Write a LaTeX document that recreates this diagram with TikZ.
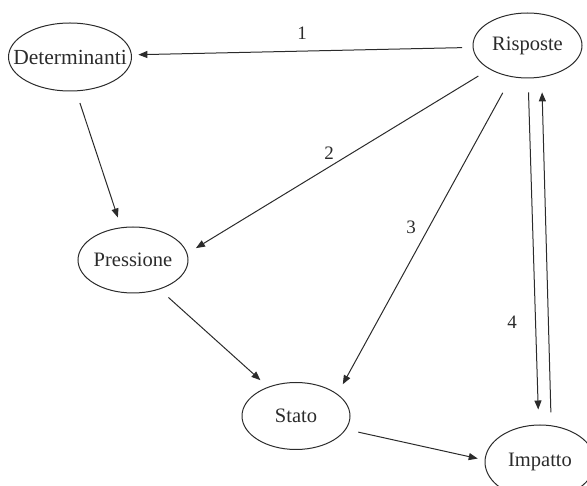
\documentclass[tikz,border=0pt]{standalone}
\usepackage{fontspec}
\setmainfont{Liberation Serif}
\usetikzlibrary{arrows.meta,shapes.geometric}
\definecolor{ink}{HTML}{2B2B2B}
% label of zero width, so that the ellipse keeps its set size
\newcommand{\statelabel}[1]{\makebox[0pt]{#1}}
\begin{document}
\begin{tikzpicture}[x=1pt,y=-1pt,
  state/.style={ellipse, draw=ink, line width=1pt, inner sep=0pt, text=ink,
    font=\fontsize{20.5}{24}\selectfont},
  link/.style={draw=ink, line width=1pt, -{Triangle[length=9pt,width=7pt]}},
  num/.style={text=ink, font=\fontsize{19}{22}\selectfont}]
  \useasboundingbox (0,0) rectangle (587,486);
  \clip (0,0) rectangle (587,486);

  % states
  \node[state, minimum width=123pt, minimum height=68pt,
        font=\fontsize{21.5}{25}\selectfont] (det) at (70,57) {\statelabel{Determinanti}};
  \node[state, minimum width=109pt, minimum height=65pt] (ris) at (527.5,45.5) {\statelabel{Risposte}};
  \node[state, minimum width=110pt, minimum height=66pt] (pre) at (133,260) {\statelabel{Pressione}};
  \node[state, minimum width=108pt, minimum height=67pt] (sta) at (296,416) {\statelabel{Stato}};
  \node[state, minimum width=110pt, minimum height=74pt] (imp) at (540,462) {\statelabel{Impatto}};

  % feedback links from the responses
  \draw[link, shorten <=10.5pt, shorten >=6.5pt] (ris.182) -- (det.2.5);
  \draw[link, shorten <=13pt, shorten >=10pt] (ris.212) -- (pre.7);
  \draw[link, shorten <=18pt, shorten >=11pt] (ris.243) -- (sta.28);
  \draw[link, shorten <=14pt, shorten >=15pt] (ris.271) -- (imp.92);
  \draw[link, shorten <=13pt, shorten >=15pt] (imp.73) -- (ris.294);

  % causal chain
  \draw[link, shorten <=12.3pt, shorten >=10.3pt] (det.280) -- (pre.110);
  \draw[link, shorten <=12pt, shorten >=10pt] (pre.312) -- (sta.134);
  \draw[link, shorten <=12.5pt, shorten >=7pt] (sta.345.5) -- (imp.178);

  % link numbers
  \node[num] (n1) at (302,33) {1};
  \node[num] (n2) at (329,153) {2};
  \node[num] (n3) at (411,227) {3};
  \node[num] (n4) at (512,322) {4};
\end{tikzpicture}
\end{document}
